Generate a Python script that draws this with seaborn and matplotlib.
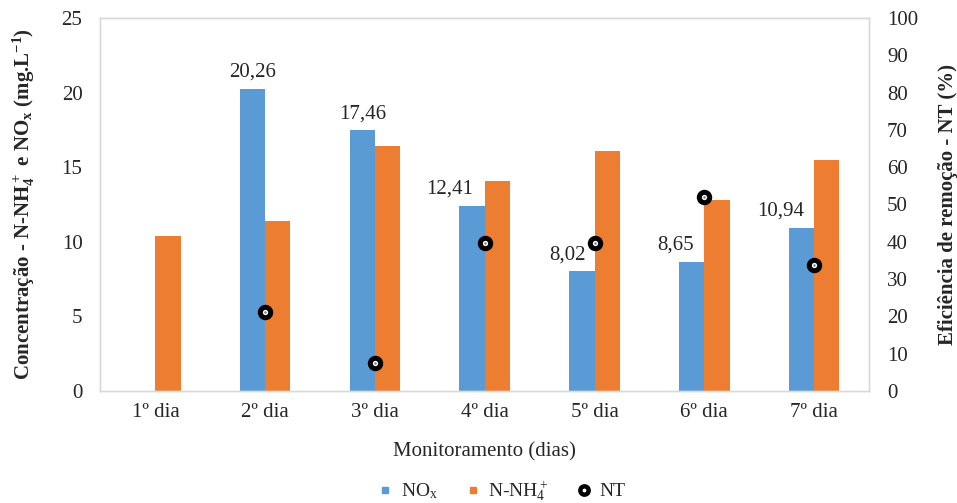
import numpy as np
import pandas as pd
import matplotlib
matplotlib.use("Agg")
import matplotlib.pyplot as plt
from matplotlib.lines import Line2D
import seaborn as sns

# Data
dias = ["1º dia", "2º dia", "3º dia", "4º dia", "5º dia", "6º dia", "7º dia"]
nox = [np.nan, 20.26, 17.46, 12.41, 8.02, 8.65, 10.94]
nh4 = [10.4, 11.4, 16.4, 14.1, 16.1, 12.8, 15.5]
nt = [np.nan, 21.1, 7.5, 39.8, 39.6, 51.9, 33.7]

series = ["NOx", "N-NH4+"]
cores = {"NOx": "#5B9BD5", "N-NH4+": "#ED7D31"}

# horizontal nudge (points) of each NOx value label, so it clears the NT marker
desloc_rotulo = [0, 0, 0, -16, -10, -11.5, -15]

df = pd.DataFrame({
    "dia": dias * 2,
    "serie": [series[0]] * len(dias) + [series[1]] * len(dias),
    "valor": nox + nh4,
})
df_nt = pd.DataFrame({"dia": dias, "nt": nt})

sns.set_theme(style="white")
plt.rcParams["font.family"] = ["Liberation Serif", "DejaVu Serif"]
plt.rcParams["mathtext.default"] = "regular"
TXT = "#262626"

fig = plt.figure(figsize=(9.57, 5.03), dpi=100)
ax = fig.add_axes([0.105, 0.2227, 0.803, 0.7415])

sns.barplot(data=df, x="dia", y="valor", hue="serie", order=dias,
            hue_order=series, palette=cores, width=0.46, saturation=1,
            errorbar=None, legend=False, linewidth=0, ax=ax)

# value labels above the NOx bars
for barra in ax.containers[0]:
    h = barra.get_height()
    if np.isnan(h):
        continue
    xc = barra.get_x() + barra.get_width() / 2
    i = int(round(xc))
    ax.annotate(f"{h:.2f}".replace(".", ","), xy=(xc, h),
                xytext=(desloc_rotulo[i], 5), textcoords="offset points",
                ha="center", va="bottom", fontsize=15, color=TXT)

ax.set_ylim(0, 25)
ax.set_yticks(range(0, 26, 5))
ax.set_xlabel("Monitoramento (dias)", fontsize=15, labelpad=14, color=TXT)
ax.set_ylabel(r"Concentração - N-NH$_4^+$ e NO$_x$ (mg.L$^{-1}$)",
              fontsize=15, fontweight="bold", labelpad=18, color=TXT)

ax2 = ax.twinx()
sns.pointplot(data=df_nt, x="dia", y="nt", order=dias, linestyle="none",
              marker="o", color="black", markersize=7.5, markeredgewidth=3.6,
              markerfacecolor="white", markeredgecolor="black", ax=ax2)
sns.pointplot(data=df_nt, x="dia", y="nt", order=dias, linestyle="none",
              marker="o", color="#808080", markersize=1.8, markeredgewidth=0, ax=ax2)
ax2.set_ylim(0, 100)
ax2.set_yticks(range(0, 101, 10))
ax2.set_ylabel("Eficiência de remoção - NT (%)", fontsize=15, fontweight="bold",
               labelpad=14, color=TXT)
ax2.set_xlabel("")

for a in (ax, ax2):
    a.tick_params(axis="both", length=0, labelsize=15, colors=TXT)
    for s in a.spines.values():
        s.set_color("#D9D9D9")
        s.set_linewidth(1)
ax.tick_params(axis="y", pad=13)
ax2.tick_params(axis="y", pad=13)
ax.tick_params(axis="x", pad=9)

handles = [
    Line2D([], [], linestyle="none", marker="s", markersize=5, color=cores["NOx"]),
    Line2D([], [], linestyle="none", marker="s", markersize=5, color=cores["N-NH4+"]),
    Line2D([], [], linestyle="none", marker="o", markersize=6, markeredgewidth=3.2,
           markerfacecolor="white", markeredgecolor="black"),
]
labels = [r"NO$_x$", r"N-NH$_4^+$", "NT"]
fig.legend(handles, labels, loc="center", bbox_to_anchor=(0.523, 0.024),
           ncol=3, frameon=False, fontsize=14, handletextpad=0.3,
           columnspacing=1.3, handlelength=1.0, labelcolor=TXT)

fig.savefig("out.png", dpi=100)
